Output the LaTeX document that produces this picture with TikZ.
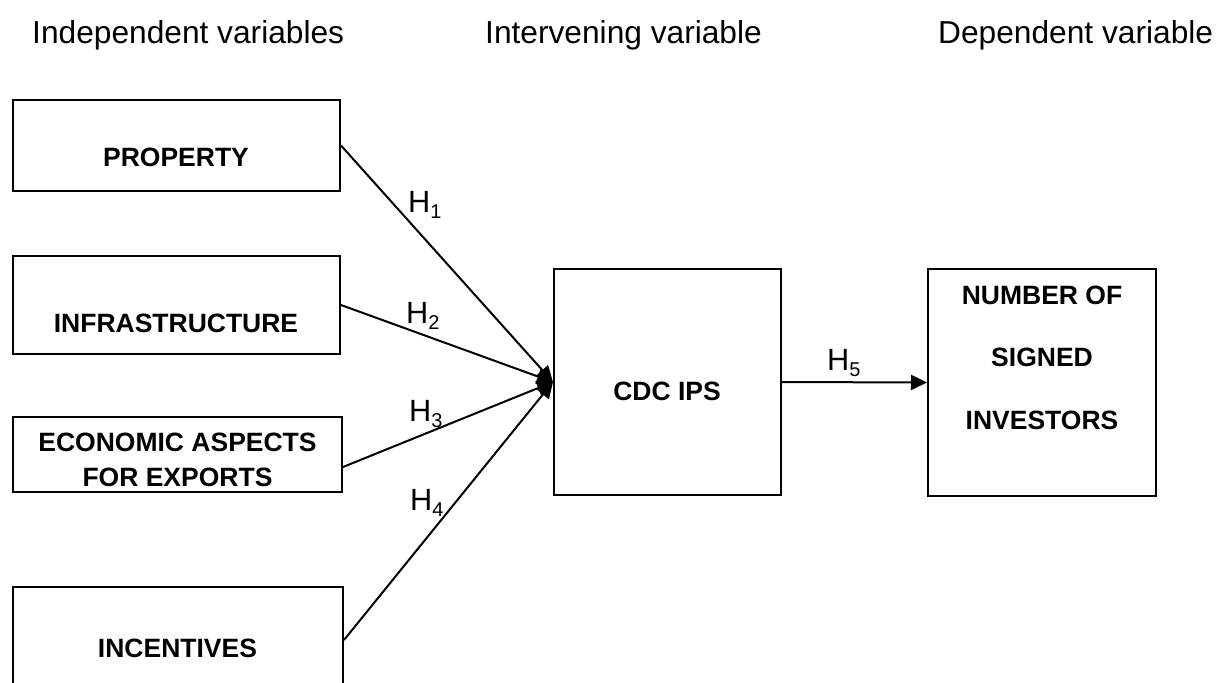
\documentclass[tikz,border=0pt]{standalone}
\usepackage{fontspec}
\setmainfont{Liberation Sans}
\usetikzlibrary{arrows.meta}
\newcommand{\hsub}[2]{#1{\fontsize{20}{20}\selectfont\raisebox{-6pt}{#2}}}
\begin{document}
\begin{tikzpicture}[x=1pt,y=-1pt,
  varbox/.style={draw,line width=2pt,rectangle,inner sep=0pt},
  lbl/.style={font=\fontsize{26.5}{26.5}\selectfont\bfseries,anchor=base,inner sep=0pt},
  head/.style={font=\fontsize{31.7}{31.7}\selectfont,anchor=base west,inner sep=0pt},
  hyp/.style={font=\fontsize{30.7}{30.7}\selectfont,anchor=base west,inner sep=0pt},
  conn/.style={line width=2pt,-{Triangle[length=16pt,width=15pt]}}]
\useasboundingbox (0,0) rectangle (1219,683);
\clip (0,0) rectangle (1219,683);
\fill[white] (0,0) rectangle (1219,683);
% headers
\node[head] (h1) at (32,43) {Independent variables};
\node[head] (h2) at (485,43) {Intervening variable};
\node[head] (h3) at (938,43) {Dependent variable};
% boxes
\node[varbox,minimum width=327pt,minimum height=91pt] (prop) at (176.5,145.5) {};
\node[varbox,minimum width=327pt,minimum height=98pt] (infra) at (176.5,305) {};
\node[varbox,minimum width=329pt,minimum height=75pt] (eco) at (177.5,454.5) {};
\node[varbox,minimum width=330pt,minimum height=142pt] (inc) at (178,658) {};
\node[varbox,minimum width=227pt,minimum height=226pt] (cdc) at (667.5,382) {};
\node[varbox,minimum width=228pt,minimum height=227pt] (num) at (1042,382.5) {};
% labels
\node[lbl] (tprop) at (176,166) {PROPERTY};
\node[lbl] (tinfra) at (176,332) {INFRASTRUCTURE};
\node[lbl] (teco1) at (177.5,451) {ECONOMIC ASPECTS};
\node[lbl] (teco2) at (177.5,486) {FOR EXPORTS};
\node[lbl] (tinc) at (177.5,657) {INCENTIVES};
\node[lbl] (tcdc) at (667,400) {CDC IPS};
\node[lbl] (tnum1) at (1042,304) {NUMBER OF};
\node[lbl] (tnum2) at (1042,366) {SIGNED};
\node[lbl] (tnum3) at (1042,429) {INVESTORS};
% connectors
\draw[conn] (prop.east) -- (cdc.west);
\draw[conn] (infra.east) -- (cdc.west);
\draw[conn] ([yshift=-12.5pt]eco.east) -- (cdc.west);
\draw[conn] ([yshift=18pt]inc.east) -- (cdc.west);
\draw[conn] (cdc.east) -- (num.west);
% hypothesis labels
\node[hyp] (H1) at (408,212) {\hsub{H}{1}};
\node[hyp] (H2) at (406,323) {\hsub{H}{2}};
\node[hyp] (H3) at (409,421) {\hsub{H}{3}};
\node[hyp] (H4) at (410,510) {\hsub{H}{4}};
\node[hyp] (H5) at (827,370) {\hsub{H}{5}};
\end{tikzpicture}
\end{document}
